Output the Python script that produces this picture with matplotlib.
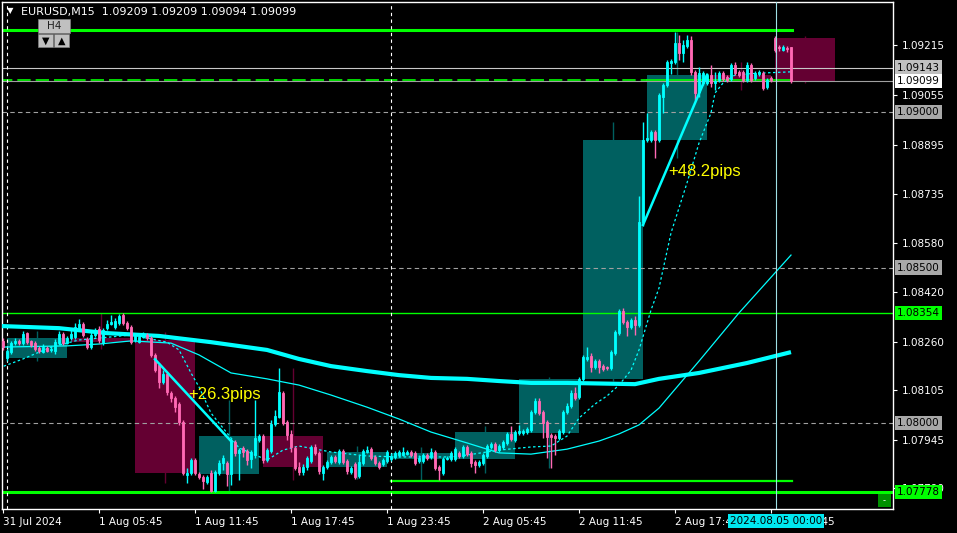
import matplotlib
matplotlib.use("Agg")
import matplotlib.pyplot as plt
import matplotlib.transforms as mtransforms
from matplotlib.patches import Rectangle
import numpy as np

# EURUSD M15 bars, 31 Jul 23:45 -> 2 Aug 23:45, then 5 Aug 00:00 -> 01:00
opens = [
    1.08264, 1.08209, 1.08228, 1.08257, 1.08264, 1.08257, 1.08289, 1.08264, 1.08257, 1.08241,
    1.08228, 1.08241, 1.08235, 1.08232, 1.08257, 1.08286, 1.08257, 1.08273, 1.08277, 1.08305,
    1.08318, 1.08270, 1.08244, 1.08283, 1.08302, 1.08257, 1.08305, 1.08318, 1.08309, 1.08322,
    1.08347, 1.08322, 1.08309, 1.08267, 1.08260, 1.08277, 1.08283, 1.08273, 1.08219, 1.08187,
    1.08132, 1.08158, 1.08097, 1.08080, 1.08061, 1.08003, 1.07833, 1.07839, 1.07881, 1.07836,
    1.07826, 1.07810, 1.07839, 1.07782, 1.07839, 1.07871, 1.07871, 1.07836, 1.07939, 1.07904,
    1.07920, 1.07910, 1.07884, 1.07897, 1.07945, 1.07958, 1.07881, 1.07910, 1.07997, 1.08019,
    1.08097, 1.08003, 1.07965, 1.07920, 1.07859, 1.07843, 1.07859, 1.07878, 1.07923, 1.07904,
    1.07839, 1.07859, 1.07875, 1.07891, 1.07875, 1.07910, 1.07878, 1.07843, 1.07868, 1.07830,
    1.07871, 1.07907, 1.07916, 1.07891, 1.07871, 1.07868, 1.07878, 1.07884, 1.07891, 1.07897,
    1.07897, 1.07900, 1.07907, 1.07904, 1.07878, 1.07878, 1.07897, 1.07891, 1.07907, 1.07859,
    1.07839, 1.07884, 1.07884, 1.07884, 1.07904, 1.07894, 1.07923, 1.07904, 1.07875, 1.07865,
    1.07871, 1.07894, 1.07923, 1.07933, 1.07913, 1.07923, 1.07936, 1.07965, 1.07945, 1.07968,
    1.07968, 1.07971, 1.07978, 1.08035, 1.08071, 1.08035, 1.08003, 1.07961, 1.07958, 1.07952,
    1.07971, 1.08035, 1.08055, 1.08097, 1.08084, 1.08142, 1.08206, 1.08215, 1.08180, 1.08199,
    1.08183, 1.08180, 1.08177, 1.08225, 1.08289, 1.08360, 1.08325, 1.08309, 1.08331, 1.08315,
    1.08646, 1.08910, 1.08910, 1.08936, 1.08910, 1.09048, 1.09087, 1.09157, 1.09161, 1.09222,
    1.09190, 1.09212, 1.09231, 1.09129, 1.09064, 1.09093, 1.09093, 1.09119, 1.09093, 1.09103,
    1.09125, 1.09112, 1.09106, 1.09151, 1.09129, 1.09129, 1.09103, 1.09151, 1.09109, 1.09122,
    1.09125, 1.09080, 1.09109, 1.09238, 1.09209, 1.09199, 1.09206, 1.09209,
]
highs = [
    1.08273, 1.08238, 1.08264, 1.08273, 1.08270, 1.08296, 1.08293, 1.08267, 1.08264, 1.08248,
    1.08254, 1.08248, 1.08248, 1.08270, 1.08296, 1.08293, 1.08280, 1.08302, 1.08322, 1.08334,
    1.08325, 1.08277, 1.08293, 1.08305, 1.08312, 1.08305, 1.08331, 1.08347, 1.08338, 1.08350,
    1.08354, 1.08328, 1.08315, 1.08289, 1.08286, 1.08293, 1.08289, 1.08280, 1.08225, 1.08193,
    1.08170, 1.08164, 1.08103, 1.08087, 1.08068, 1.08010, 1.07855, 1.07888, 1.07888, 1.07843,
    1.07833, 1.07833, 1.07849, 1.07849, 1.07881, 1.07897, 1.07878, 1.07952, 1.07945, 1.07920,
    1.07926, 1.07916, 1.07913, 1.08074, 1.07965, 1.07965, 1.07920, 1.08010, 1.08042, 1.08177,
    1.08103, 1.08010, 1.07978, 1.07926, 1.07875, 1.07868, 1.07894, 1.07929, 1.07933, 1.07910,
    1.07865, 1.07881, 1.07897, 1.07897, 1.07916, 1.07916, 1.07884, 1.07862, 1.07875, 1.07897,
    1.07916, 1.07926, 1.07923, 1.07897, 1.07878, 1.07888, 1.07913, 1.07904, 1.07910, 1.07913,
    1.07923, 1.07913, 1.07913, 1.07910, 1.07897, 1.07904, 1.07904, 1.07920, 1.07913, 1.07865,
    1.07891, 1.07894, 1.07910, 1.07923, 1.07910, 1.07929, 1.07929, 1.07910, 1.07881, 1.07881,
    1.07904, 1.07933, 1.07939, 1.07939, 1.07933, 1.07945, 1.07971, 1.07990, 1.07978, 1.07994,
    1.07981, 1.07987, 1.08042, 1.08080, 1.08080, 1.08042, 1.08010, 1.07968, 1.07965, 1.07981,
    1.08042, 1.08064, 1.08106, 1.08116, 1.08148, 1.08219, 1.08244, 1.08225, 1.08206, 1.08206,
    1.08190, 1.08183, 1.08235, 1.08299, 1.08367, 1.08370, 1.08331, 1.08338, 1.08344, 1.08730,
    1.08968, 1.08997, 1.08942, 1.08942, 1.09061, 1.09093, 1.09167, 1.09170, 1.09257, 1.09247,
    1.09231, 1.09247, 1.09244, 1.09135, 1.09145, 1.09132, 1.09125, 1.09151, 1.09129, 1.09132,
    1.09132, 1.09119, 1.09157, 1.09161, 1.09135, 1.09135, 1.09161, 1.09157, 1.09132, 1.09135,
    1.09132, 1.09109, 1.09116, 1.09244, 1.09215, 1.09215, 1.09212, 1.09209,
]
lows = [
    1.08235, 1.08199, 1.08222, 1.08251, 1.08251, 1.08251, 1.08254, 1.08244, 1.08232, 1.08225,
    1.08225, 1.08228, 1.08228, 1.08222, 1.08251, 1.08251, 1.08254, 1.08267, 1.08270, 1.08302,
    1.08277, 1.08238, 1.08238, 1.08277, 1.08257, 1.08251, 1.08299, 1.08315, 1.08302, 1.08315,
    1.08315, 1.08299, 1.08254, 1.08260, 1.08257, 1.08273, 1.08267, 1.08212, 1.08164, 1.08113,
    1.08125, 1.08090, 1.08068, 1.08035, 1.07994, 1.07833, 1.07807, 1.07833, 1.07833, 1.07820,
    1.07788, 1.07804, 1.07778, 1.07778, 1.07833, 1.07849, 1.07798, 1.07801, 1.07894, 1.07817,
    1.07891, 1.07865, 1.07855, 1.07888, 1.07939, 1.07871, 1.07875, 1.07904, 1.07990, 1.08016,
    1.07994, 1.07945, 1.07907, 1.07849, 1.07833, 1.07833, 1.07849, 1.07871, 1.07897, 1.07836,
    1.07817, 1.07852, 1.07868, 1.07871, 1.07868, 1.07868, 1.07836, 1.07836, 1.07820, 1.07823,
    1.07865, 1.07904, 1.07881, 1.07865, 1.07852, 1.07862, 1.07871, 1.07878, 1.07884, 1.07891,
    1.07894, 1.07897, 1.07891, 1.07865, 1.07871, 1.07871, 1.07881, 1.07884, 1.07849, 1.07817,
    1.07833, 1.07881, 1.07878, 1.07878, 1.07888, 1.07888, 1.07894, 1.07859, 1.07839, 1.07859,
    1.07865, 1.07888, 1.07916, 1.07907, 1.07907, 1.07916, 1.07929, 1.07942, 1.07939, 1.07961,
    1.07961, 1.07965, 1.07971, 1.08029, 1.08026, 1.07952, 1.07888, 1.07855, 1.07897, 1.07945,
    1.07965, 1.08029, 1.08048, 1.08074, 1.08077, 1.08135, 1.08199, 1.08164, 1.08174, 1.08161,
    1.08167, 1.08170, 1.08170, 1.08219, 1.08283, 1.08318, 1.08280, 1.08302, 1.08283, 1.08309,
    1.08633, 1.08903, 1.08903, 1.08852, 1.08903, 1.08997, 1.09080, 1.09122, 1.09154, 1.09167,
    1.09161, 1.09206, 1.09119, 1.09039, 1.09048, 1.09087, 1.09087, 1.09080, 1.09071, 1.09096,
    1.09100, 1.09096, 1.09100, 1.09119, 1.09112, 1.09096, 1.09096, 1.09096, 1.09103, 1.09116,
    1.09071, 1.09074, 1.09096, 1.09193, 1.09196, 1.09196, 1.09193, 1.09094,
]
closes = [
    1.08244, 1.08232, 1.08257, 1.08264, 1.08257, 1.08286, 1.08260, 1.08251, 1.08238, 1.08232,
    1.08244, 1.08232, 1.08238, 1.08260, 1.08286, 1.08257, 1.08273, 1.08286, 1.08309, 1.08318,
    1.08283, 1.08244, 1.08283, 1.08296, 1.08267, 1.08299, 1.08318, 1.08325, 1.08328, 1.08344,
    1.08322, 1.08305, 1.08260, 1.08280, 1.08277, 1.08286, 1.08273, 1.08219, 1.08170, 1.08132,
    1.08158, 1.08100, 1.08080, 1.08051, 1.08003, 1.07839, 1.07839, 1.07881, 1.07839, 1.07826,
    1.07814, 1.07826, 1.07782, 1.07843, 1.07871, 1.07888, 1.07836, 1.07945, 1.07904, 1.07913,
    1.07907, 1.07881, 1.07907, 1.07952, 1.07958, 1.07881, 1.07913, 1.07997, 1.08023, 1.08100,
    1.08000, 1.07961, 1.07923, 1.07855, 1.07843, 1.07859, 1.07888, 1.07923, 1.07904, 1.07846,
    1.07859, 1.07875, 1.07891, 1.07878, 1.07910, 1.07875, 1.07846, 1.07855, 1.07826, 1.07875,
    1.07910, 1.07913, 1.07888, 1.07871, 1.07859, 1.07881, 1.07907, 1.07894, 1.07904, 1.07907,
    1.07907, 1.07907, 1.07897, 1.07871, 1.07888, 1.07897, 1.07888, 1.07907, 1.07855, 1.07849,
    1.07884, 1.07888, 1.07904, 1.07916, 1.07894, 1.07923, 1.07900, 1.07871, 1.07865, 1.07875,
    1.07897, 1.07926, 1.07933, 1.07913, 1.07926, 1.07939, 1.07965, 1.07949, 1.07971, 1.07974,
    1.07974, 1.07981, 1.08035, 1.08071, 1.08032, 1.08000, 1.07955, 1.07955, 1.07952, 1.07974,
    1.08035, 1.08055, 1.08097, 1.08080, 1.08142, 1.08212, 1.08212, 1.08180, 1.08199, 1.08180,
    1.08174, 1.08177, 1.08228, 1.08293, 1.08360, 1.08325, 1.08309, 1.08331, 1.08315, 1.08646,
    1.08910, 1.08916, 1.08936, 1.08910, 1.09055, 1.09087, 1.09161, 1.09164, 1.09222, 1.09190,
    1.09215, 1.09231, 1.09129, 1.09061, 1.09125, 1.09125, 1.09119, 1.09093, 1.09100, 1.09125,
    1.09106, 1.09103, 1.09151, 1.09125, 1.09119, 1.09103, 1.09151, 1.09103, 1.09125, 1.09129,
    1.09077, 1.09103, 1.09103, 1.09199, 1.09206, 1.09209, 1.09202, 1.09099,
]

# time axis: one label every 24 bars
tick_bars = [0, 24, 48, 72, 96, 120, 144, 168, 192]
tick_labels = ["31 Jul 2024", "1 Aug 05:45", "1 Aug 11:45", "1 Aug 17:45", "1 Aug 23:45",
               "2 Aug 05:45", "2 Aug 11:45", "2 Aug 17:45", "2 Aug 23:45"]
price_ticks = [1.09215, 1.09055, 1.08895, 1.08735, 1.08580, 1.08420,
               1.08260, 1.08105, 1.07945, 1.07790]

# moving averages (bar, price)
ma_slow_bars = [-1, 14, 26, 39, 52, 66, 74, 82, 91, 99, 107, 116, 124, 132, 141, 158, 164, 174, 186, 197]
ma_slow = [1.08312, 1.08305, 1.08289, 1.08280, 1.08260, 1.08235, 1.08206, 1.08183, 1.08167, 1.08154,
           1.08145, 1.08142, 1.08135, 1.08129, 1.08129, 1.08125, 1.08142, 1.08161, 1.08193, 1.08228]
ma_mid_bars = [-1, 16, 24, 32, 42, 49, 57, 66, 74, 82, 91, 99, 107, 116, 124, 132, 141, 149, 154,
               159, 164, 174, 184, 197]
ma_mid = [1.08244, 1.08248, 1.08254, 1.08264, 1.08257, 1.08219, 1.08161, 1.08142, 1.08122, 1.08090,
          1.08051, 1.08013, 1.07971, 1.07936, 1.07904, 1.07900, 1.07916, 1.07942, 1.07965,
          1.07994, 1.08048, 1.08199, 1.08354, 1.08540]
ma_fast_bars = [-1, 5, 12, 19, 32, 41, 44, 47, 49, 52, 56, 59, 66, 70, 74, 82, 91, 99, 112, 116,
                124, 132, 137, 141, 144, 148, 151, 154, 157, 159, 162, 164, 167, 171, 174, 177,
                178, 180, 183, 189, 197]
ma_fast = [1.08177, 1.08206, 1.08244, 1.08267, 1.08283, 1.08260, 1.08235, 1.08161, 1.08116, 1.08032,
           1.07968, 1.07920, 1.07881, 1.07913, 1.07926, 1.07907, 1.07894, 1.07891, 1.07891, 1.07897,
           1.07913, 1.07923, 1.07926, 1.07958, 1.08016, 1.08061, 1.08087, 1.08122, 1.08170, 1.08235,
           1.08363, 1.08434, 1.08611, 1.08772, 1.08900, 1.08997, 1.09061, 1.09093, 1.09119, 1.09125,
           1.09129]

# zigzag legs and their labels
leg1_bars, leg1_prices = [38, 57], [1.08205, 1.07942]
leg2_bars, leg2_prices = [160, 176], [1.08637, 1.09119]
leg_texts = ["+26.3pips", "+48.2pips"]

round_levels = [1.09000, 1.08500, 1.08000]
level_top = 1.09264
level_low = 1.07778
level_mid = 1.08354
level_low2 = 1.07814
level_fri_close = 1.09103
level_prev = 1.09143
bid = 1.09099

BG = "black"
BULL = "#00ffff"
BEAR = "#ff69b4"
TEAL = "#006060"
MAROON = "#640032"
GREEN = "#00ff00"

W, H = 957, 533
fig = plt.figure(figsize=(W / 100, H / 100), dpi=100, facecolor=BG)
ax = fig.add_axes([2 / W, 24 / H, 891 / W, 507 / H], facecolor=BG)

o = np.array(opens); hi = np.array(highs); lo = np.array(lows); c = np.array(closes)
idx = np.arange(len(c))
n = len(c)

# H4 candles drawn as boxes behind the M15 bars
first = 1
while first < n:
    last = min(first + 15, n - 1)
    ho, hc = o[first], c[last]
    col = TEAL if hc >= ho else MAROON
    ax.vlines(first + 7.5, lo[first:last + 1].min(), hi[first:last + 1].max(),
              color=col, lw=1, zorder=1)
    ax.add_patch(Rectangle((first, min(ho, hc)), 15, abs(hc - ho),
                           facecolor=col, edgecolor="none", zorder=1))
    first += 16

# horizontal levels
for lv in round_levels:
    ax.axhline(lv, color="#a0a0a0", lw=0.8, ls=(0, (4, 3)), zorder=2)
ax.axhline(level_prev, color="#c8c8c8", lw=0.8, zorder=2)
ax.axhline(bid, color="#a0a0a0", lw=0.8, zorder=2)
ax.plot([-1, 197.2], [level_top, level_top], color=GREEN, lw=2.2, zorder=2)
ax.axhline(level_low, color=GREEN, lw=2.2, zorder=2)
ax.axhline(level_mid, color=GREEN, lw=1.0, zorder=2)
ax.plot([97, 197.2], [level_low2, level_low2], color=GREEN, lw=1.6, zorder=2)
ax.plot([-1, 161], [level_fri_close, level_fri_close], color=GREEN, lw=1.2,
        ls=(0, (8, 3)), zorder=2)
ax.plot([161, 197.2], [level_fri_close, level_fri_close], color=GREEN, lw=1.2, zorder=2)

# day separators and crosshair
for b in [1, 97]:
    ax.axvline(b, color="white", lw=0.8, ls=(0, (3, 3)), zorder=2)
ax.axvline(193.2, color="#9fe0e6", lw=0.8, zorder=6)

# moving averages
ax.plot(ma_slow_bars, ma_slow, color=BULL, lw=3.0, zorder=3, solid_capstyle="butt")
ax.plot(ma_mid_bars, ma_mid, color=BULL, lw=0.9, zorder=3)
ax.plot(ma_fast_bars, ma_fast, color=BULL, lw=0.9, ls=(0, (2, 2)), zorder=3)

# M15 candles
cols = np.where(c >= o, BULL, BEAR)
ax.vlines(idx, lo, hi, colors=cols, lw=1.0, zorder=4)
ax.bar(idx, c - o, bottom=o, width=0.72, color=cols, edgecolor=cols, lw=0.6, zorder=4)

# zigzag legs
ax.plot(leg1_bars, leg1_prices, color=BULL, lw=1.8, zorder=5)
ax.plot(leg2_bars, leg2_prices, color=BULL, lw=1.8, zorder=5)
ax.text(46.3, 1.08093, leg_texts[0], color="#ffff00", fontsize=12,
        family="Liberation Sans", va="center", ha="left", zorder=6)
ax.text(166.3, 1.08810, leg_texts[1], color="#ffff00", fontsize=12,
        family="Liberation Sans", va="center", ha="left", zorder=6)

ax.set_xlim(-0.25, 222.5)
ax.set_ylim(1.077236, 1.093536)

for sp in ax.spines.values():
    sp.set_color("white")
    sp.set_linewidth(1)

ax.yaxis.tick_right()
ax.set_yticks(price_ticks)
ax.set_yticklabels([f"{v:.5f}" for v in price_ticks])
ax.set_xticks(tick_bars)
ax.set_xticklabels(tick_labels, ha="left")
ax.tick_params(colors="white", labelsize=7.5, length=3, width=0.8)
ax.tick_params(axis="y", pad=3)
ax.tick_params(axis="x", pad=3)

# price label boxes on the right scale
tr = mtransforms.blended_transform_factory(fig.transFigure, ax.transData)
price_boxes = [(level_prev, "#c0c0c0"), (bid, "white"), (1.09000, "#a8a8a8"),
               (1.08500, "#a8a8a8"), (level_mid, GREEN), (1.08000, "#a8a8a8"),
               (level_low, GREEN)]
for val, bg in price_boxes:
    ax.text(897 / W, val, f"{val:.5f}", transform=tr, fontsize=7.5, color="black",
            va="center", ha="left", zorder=10, clip_on=False,
            bbox=dict(boxstyle="square,pad=0.2", facecolor=bg, edgecolor="none"))

# crosshair time box
fig.text(776 / W, 1 - 521 / H, "2024.08.05 00:00", fontsize=7.5, color="black",
         ha="center", va="center", zorder=10,
         bbox=dict(boxstyle="square,pad=0.2", facecolor="#00e8f0", edgecolor="none"))

# header
fig.text(7 / W, 1 - 11 / H, "\u25bc", color="white", fontsize=6, va="center")
fig.text(21 / W, 1 - 12 / H, "EURUSD,M15  1.09209 1.09209 1.09094 1.09099",
         color="white", fontsize=8, va="center")

# H4 timeframe buttons
fig.add_artist(Rectangle((38 / W, 1 - 33 / H), 32 / W, 14 / H, transform=fig.transFigure,
                         facecolor="#c0c0c0", edgecolor="#808080", lw=0.5))
fig.text(54 / W, 1 - 26 / H, "H4", color="#202020", fontsize=7.5, ha="center", va="center")
for x0, sym in [(38, "\u25bc"), (54, "\u25b2")]:
    fig.add_artist(Rectangle((x0 / W, 1 - 47 / H), 15 / W, 13 / H, transform=fig.transFigure,
                             facecolor="#c0c0c0", edgecolor="#808080", lw=0.5))
    fig.text((x0 + 7.5) / W, 1 - 40.5 / H, sym, color="black", fontsize=7,
             ha="center", va="center")

# small button at bottom right
fig.add_artist(Rectangle((878 / W, 1 - 507 / H), 13 / W, 13 / H, transform=fig.transFigure,
                         facecolor="#009000", edgecolor="none"))
fig.text(884.5 / W, 1 - 500.5 / H, "-", color="white", fontsize=6, ha="center", va="center")

fig.savefig("out.png", dpi=100, facecolor=BG)
plt.close(fig)
